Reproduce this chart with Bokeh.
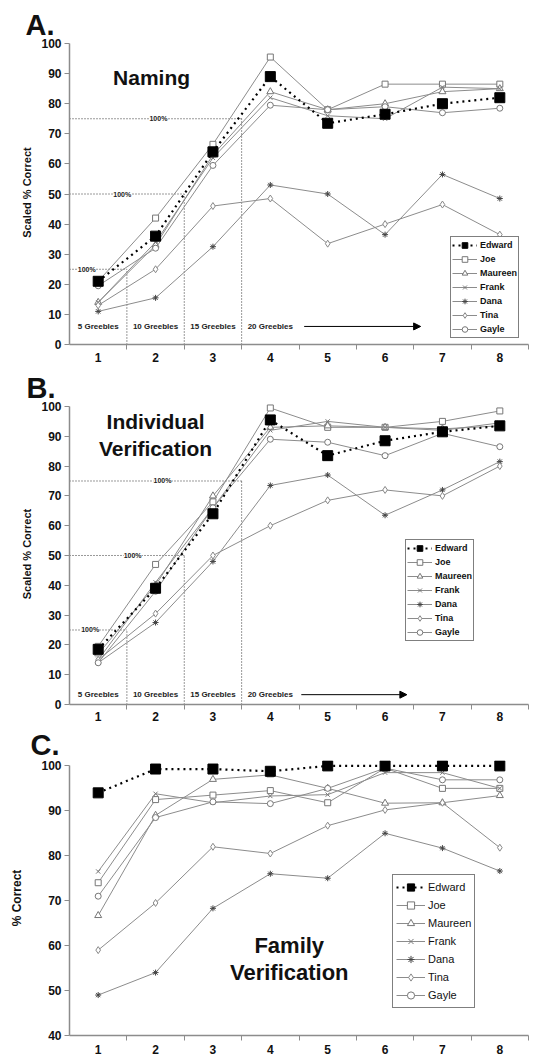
from bokeh.plotting import figure
from bokeh.models import Range1d, FixedTicker, Label, Legend, LegendItem, Arrow, NormalHead
from bokeh.layouts import column
from bokeh.embed import file_html
from bokeh.resources import INLINE
from bokeh.core.properties import value

FONT = "Liberation Sans"
GREY = "#8c8c8c"

sessions = [1, 2, 3, 4, 5, 6, 7, 8]
between = [1.5, 2.5, 3.5, 4.5, 5.5, 6.5, 7.5, 8.5]
learners = ["Edward", "Joe", "Maureen", "Frank", "Dana", "Tina", "Gayle"]

# Panel A: Naming (scaled % correct)
naming_edward = [21, 36, 64, 89, 73.5, 76.5, 80, 82]
naming_joe = [21, 42, 66.5, 95.5, 78, 86.5, 86.5, 86.5]
naming_maureen = [14, 33, 63, 84, 78, 80, 84, 85]
naming_frank = [14, 34, 62, 82, 76, 75, 85.5, 85]
naming_dana = [11, 15.5, 32.5, 53, 50, 36.5, 56.5, 48.5]
naming_tina = [13, 25, 46, 48.5, 33.5, 40, 46.5, 36.5]
naming_gayle = [19.5, 32, 59.5, 79.5, 78, 79, 77, 78.5]

# Panel B: Individual verification (scaled % correct)
indiv_edward = [18.5, 39, 64, 95.5, 83.5, 88.5, 91.5, 93.5]
indiv_joe = [19.5, 47, 68, 99.5, 93, 93, 95, 98.5]
indiv_maureen = [17, 40, 70, 93, 93.5, 93, 92.5, 93.5]
indiv_frank = [15, 41, 66, 92, 95, 93, 92, 94.5]
indiv_dana = [14, 27.5, 48, 73.5, 77, 63.5, 72, 81.5]
indiv_tina = [15, 30.5, 50, 60, 68.5, 72, 70, 80]
indiv_gayle = [14, 38, 66, 89, 88, 83.5, 91, 86.5]

# Panel C: Family verification (% correct)
family_edward = [94, 99.3, 99.3, 98.8, 100, 100, 100, 100]
family_joe = [74, 92.5, 93.5, 94.5, 91.8, 99.5, 95, 95]
family_maureen = [66.7, 89, 97, 98, 95, 91.7, 91.8, 93.4]
family_frank = [76.5, 93.8, 91.8, 93.3, 93.6, 98.5, 98.5, 95]
family_dana = [49, 54, 68.3, 76, 75, 85, 81.7, 76.6]
family_tina = [59, 69.5, 82, 80.5, 86.7, 90.2, 91.8, 81.8]
family_gayle = [71, 88.5, 92, 91.6, 95, 99.5, 96.9, 96.9]

thresholds = [25, 50, 75]
boundaries = [1.5, 2.5, 3.5]
greeble_labels = ["5 Greebles", "10 Greebles", "15 Greebles", "20 Greebles"]
greeble_x = [1, 2, 3, 4]

STYLES = {
    "Edward": dict(marker="square", size=10, fill_color="black", line_color="black"),
    "Joe": dict(marker="square", size=6, fill_color="white", line_color="#777777"),
    "Maureen": dict(marker="triangle", size=7, fill_color="white", line_color="#777777"),
    "Frank": dict(marker="x", size=6, fill_color="white", line_color="#777777"),
    "Dana": dict(marker="asterisk", size=6, fill_color="white", line_color="#444444"),
    "Tina": dict(marker="diamond", size=7, fill_color="white", line_color="#888888"),
    "Gayle": dict(marker="circle", size=6, fill_color="white", line_color="#777777"),
}


def make_fig(height, ymin, ytop, yticks, mb_left, mb_right, mb_top, mb_bottom,
             ylabel, ylabel_size, ylabel_standoff, tick_size, letter, letter_offset,
             x_standoff):
    p = figure(width=538, height=height, x_range=Range1d(0.5, 8.5),
               y_range=Range1d(ymin, ytop), output_backend="svg",
               toolbar_location=None, title=letter,
               min_border_left=mb_left, min_border_right=mb_right,
               min_border_top=mb_top, min_border_bottom=mb_bottom)
    p.title.text_font = FONT
    p.title.text_font_style = "bold"
    p.title.text_font_size = "29px"
    p.title.text_color = "#111111"
    p.title.align = "left"
    p.title.offset = letter_offset
    p.title.standoff = 0
    p.outline_line_color = None
    p.grid.visible = False
    xa = p.xaxis[0]
    xa.ticker = FixedTicker(ticks=sessions, minor_ticks=between)
    xa.major_tick_line_color = None
    xa.major_tick_out = 5
    xa.major_tick_in = 0
    xa.minor_tick_line_color = GREY
    xa.minor_tick_out = 5
    xa.minor_tick_in = 0
    xa.axis_line_color = GREY
    xa.axis_line_width = 1.5
    xa.major_label_text_font = FONT
    xa.major_label_text_font_style = "bold"
    xa.major_label_text_font_size = tick_size
    xa.major_label_text_color = "#111111"
    xa.major_label_standoff = x_standoff
    ya = p.yaxis[0]
    ya.ticker = FixedTicker(ticks=yticks)
    ya.bounds = (ymin, 100)
    ya.major_tick_out = 5
    ya.major_tick_in = 0
    ya.major_tick_line_color = GREY
    ya.minor_tick_line_color = None
    ya.axis_line_color = GREY
    ya.axis_line_width = 1.5
    ya.major_label_text_font = FONT
    ya.major_label_text_font_style = "bold"
    ya.major_label_text_font_size = tick_size
    ya.major_label_text_color = "#111111"
    ya.major_label_standoff = 3
    ya.axis_label = ylabel
    ya.axis_label_text_font = FONT
    ya.axis_label_text_font_style = "bold"
    ya.axis_label_text_font_size = ylabel_size
    ya.axis_label_text_color = "#111111"
    ya.axis_label_standoff = ylabel_standoff
    return p


def draw_series(p, data, legend_loc, glyph_w, row_h, pad, label_size, label_style):
    rends = {}
    for name in learners[1:] + learners[:1]:
        st = STYLES[name]
        if name == "Edward":
            lr = p.line(sessions, data[name], line_color="black", line_width=2.2,
                        line_dash="2 4")
        else:
            lr = p.line(sessions, data[name], line_color=GREY, line_width=1)
        sr = p.scatter(sessions, data[name], marker=st["marker"], size=st["size"],
                       fill_color=st["fill_color"], line_color=st["line_color"],
                       line_width=1)
        rends[name] = [lr, sr]
    items = [LegendItem(label=n, renderers=rends[n]) for n in learners]
    leg = Legend(items=items, location=legend_loc)
    leg.glyph_width = glyph_w
    leg.glyph_height = row_h
    leg.label_height = row_h
    leg.spacing = 0
    leg.padding = pad
    leg.margin = 0
    leg.label_standoff = 3
    leg.label_text_font = FONT
    leg.label_text_font_style = label_style
    leg.label_text_font_size = label_size
    leg.label_text_color = "#111111"
    leg.border_line_color = "black"
    leg.border_line_width = 1.5
    leg.background_fill_color = "white"
    leg.background_fill_alpha = 1
    p.add_layout(leg)


def draw_greebles(p, text_y, pct_x, arrow_x0, arrow_x1):
    p.segment(x0=boundaries, y0=[0, 0, 0], x1=boundaries, y1=thresholds,
              line_color="#333333", line_width=1, line_dash="1 2")
    p.segment(x0=[0.5, 0.5, 0.5], y0=thresholds, x1=boundaries, y1=thresholds,
              line_color="#333333", line_width=1, line_dash="1 2")
    for t, px in zip(thresholds, pct_x):
        p.add_layout(Label(x=px, y=t, text="100%", text_font=FONT,
                           text_font_style="bold", text_font_size="7px",
                           text_align="center", text_baseline="middle",
                           background_fill_color="white", text_color="#222222"))
    p.text(x=greeble_x, y=[text_y] * 4, text=greeble_labels, text_font=value(FONT),
           text_font_style="bold", text_font_size="8px", text_align="center",
           text_baseline="middle", text_color="#222222")
    p.add_layout(Arrow(end=NormalHead(size=7, fill_color="black", line_color="black"),
                       x_start=arrow_x0, y_start=text_y, x_end=arrow_x1, y_end=text_y,
                       line_color="black", line_width=1))


def big_label(p, x, y, text, size):
    p.add_layout(Label(x=x, y=y, text=text, text_font=FONT, text_font_style="bold",
                       text_font_size=size, text_align="center", text_baseline="middle",
                       text_color="#111111"))


# ---- Panel A ----
pA = make_fig(369, 0, 101, list(range(0, 101, 10)), 69, 0, 40, 25,
              "Scaled % Correct", "11px", 5, "12px", "A.", -44, 3)
draw_greebles(pA, 6, [0.8, 1.42, 2.05], 4.59, 6.62)
draw_series(pA, dict(zip(learners, [naming_edward, naming_joe, naming_maureen, naming_frank,
                                    naming_dana, naming_tina, naming_gayle])),
            (381, 6), 25, 14, 1, "9px", "bold")
big_label(pA, 1.93, 88.7, "Naming", "21px")

# ---- Panel B ----
pB = make_fig(357, 0, 101, list(range(0, 101, 10)), 69, 0, 33, 22,
              "Scaled % Correct", "11px", 5, "12px", "B.", -43, 2)
draw_greebles(pB, 3.3, [0.86, 1.6, 2.12], 4.54, 6.38)
draw_series(pB, dict(zip(learners, [indiv_edward, indiv_joe, indiv_maureen, indiv_frank,
                                    indiv_dana, indiv_tina, indiv_gayle])),
            (336, 63), 25, 14, 1, "9px", "bold")
big_label(pB, 2.0, 95, "Individual", "21px")
big_label(pB, 2.0, 86, "Verification", "21px")

# ---- Panel C ----
pC = make_fig(336, 40, 101.2, list(range(40, 101, 10)), 66, 10, 33, 27,
              "% Correct", "12px", 14, "12px", "C.", -39, 4)
draw_series(pC, dict(zip(learners, [family_edward, family_joe, family_maureen, family_frank,
                                    family_dana, family_tina, family_gayle])),
            (323, 27), 29, 18, 3, "11px", "normal")
big_label(pC, 4.33, 60, "Family", "22px")
big_label(pC, 4.33, 54, "Verification", "22px")

layout = column(pA, pB, pC)
open("out.html", "w").write(file_html(layout, INLINE))
